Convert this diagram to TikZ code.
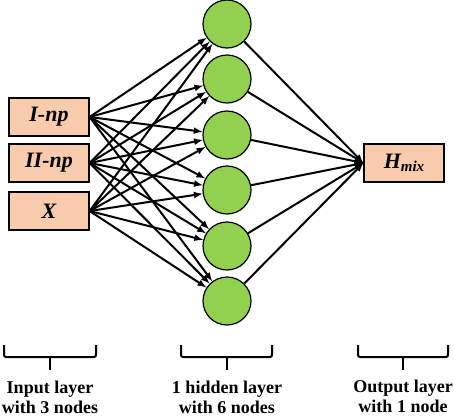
\documentclass[tikz,border=0pt]{standalone}
\usepackage{fontspec}
\setmainfont{Liberation Serif}
\usetikzlibrary{arrows}
\definecolor{boxpeach}{HTML}{F8CBAD}
\definecolor{nodegreen}{HTML}{92D050}
\tikzset{
    layerbox/.style={draw, line width=1.2pt, fill=boxpeach, minimum width=80pt, minimum height=38pt, inner sep=0pt, font=\fontsize{22}{22}\selectfont\bfseries\itshape},
    neuron/.style={draw, line width=1.2pt, circle, fill=nodegreen, minimum size=48pt, inner sep=0pt},
    link/.style={line width=2pt, -latex},
    bracket/.style={line width=2pt, rounded corners=2pt},
    caption/.style={align=center, anchor=base, inner sep=0pt, font=\fontsize{18}{20}\selectfont\bfseries}
}
\begin{document}
\begin{tikzpicture}[x=1pt, y=-1pt]
        \useasboundingbox (0, 0) rectangle (454, 418);
        % input layer
        \node[layerbox] (in1) at (49, 117) {I-np};
        \node[layerbox] (in2) at (49, 163) {II-np};
        \node[layerbox] (in3) at (49, 211) {X};
        % hidden layer
        \node[neuron] (h1) at (227, 24) {};
        \node[neuron] (h2) at (227, 79) {};
        \node[neuron] (h3) at (227, 135) {};
        \node[neuron] (h4) at (227, 190) {};
        \node[neuron] (h5) at (227, 246) {};
        \node[neuron] (h6) at (227, 301) {};
        % output layer
        \node[layerbox] (out) at (404, 163) {H\raisebox{-3pt}{\fontsize{15}{15}\selectfont mix}};
        \foreach \i in {1, 2, 3}
            \foreach \j in {1, ..., 6}
                \draw[link] (in\i.east) -- (h\j);
        \foreach \j in {1, ..., 6}
            \draw[link] (h\j) -- (out.west);
        % brackets under the layers
        \draw[bracket] (4, 345) -- (4, 357) -- (96, 357) -- (96, 345);
        \draw[line width=2pt] (50, 357) -- (50, 370);
        \draw[bracket] (181, 345) -- (181, 357) -- (272, 357) -- (272, 345);
        \draw[line width=2pt] (227, 357) -- (227, 370);
        \draw[bracket] (358, 345) -- (358, 357) -- (448, 357) -- (448, 345);
        \draw[line width=2pt] (403, 357) -- (403, 370);
        \node[caption] (capin) at (50, 413) {Input layer\\with 3 nodes};
        \node[caption] (caphid) at (227, 413) {1 hidden layer\\with 6 nodes};
        \node[caption] (capout) at (403, 412) {Output layer\\with 1 node};
\end{tikzpicture}
\end{document}
